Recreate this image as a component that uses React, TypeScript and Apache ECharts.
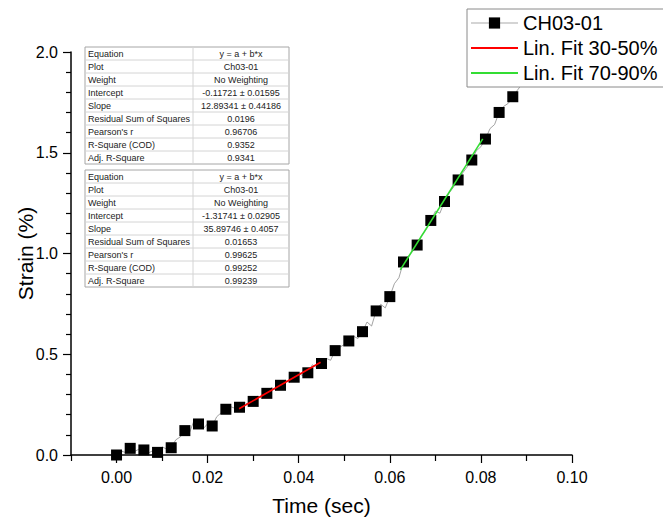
import React, { useEffect, useRef } from "react";
import * as echarts from "echarts";

// Raw strain gauge record CH03-01, sampled every 1 ms (strain in %)
const sampleStep = 0.001;
const strainRaw = [
  0.0, 0.02, 0.012, 0.033, 0.018, 0.03, 0.025, 0.01, 0.022, 0.013,
  0.04, 0.03, 0.036, 0.075, 0.09, 0.121, 0.11, 0.17, 0.154, 0.13,
  0.155, 0.144, 0.19, 0.21, 0.227, 0.24, 0.232, 0.237, 0.262, 0.25,
  0.266, 0.292, 0.28, 0.306, 0.335, 0.322, 0.346, 0.372, 0.36, 0.386,
  0.405, 0.392, 0.408, 0.448, 0.432, 0.454, 0.48, 0.47, 0.518, 0.535,
  0.548, 0.566, 0.59, 0.578, 0.612, 0.66, 0.64, 0.715, 0.748, 0.73,
  0.786, 0.85, 0.88, 0.958, 0.985, 1.01, 1.042, 1.09, 1.12, 1.164,
  1.21, 1.2, 1.258, 1.3, 1.33, 1.365, 1.4, 1.43, 1.464, 1.51,
  1.53, 1.568, 1.62, 1.64, 1.7, 1.73, 1.745, 1.778, 1.81, 1.84,
  1.87,
];
// every third sample carries a marker
const markerEvery = 3;

// Linear fits
const fit1 = { intercept: -0.11721, interceptErr: 0.01595, slope: 12.89341, slopeErr: 0.44186, rss: "0.0196", pearson: "0.96706", r2: "0.9352", adjR2: "0.9341" };
const fit2 = { intercept: -1.31741, interceptErr: 0.02905, slope: 35.89746, slopeErr: 0.4057, rss: "0.01653", pearson: "0.99625", r2: "0.99252", adjR2: "0.99239" };
const fit1Range = [0.0269, 0.0448];
const fit2Range = [0.0623, 0.0804];

const seriesNames = ["CH03-01", "Lin. Fit 30-50%", "Lin. Fit 70-90%"];
const tableRowLabels = [
  "Equation",
  "Plot",
  "Weight",
  "Intercept",
  "Slope",
  "Residual Sum of Squares",
  "Pearson's r",
  "R-Square (COD)",
  "Adj. R-Square",
];

const xMajorTicks = [0, 0.02, 0.04, 0.06, 0.08, 0.1];
const xMinorTicks = [-0.01, 0.01, 0.03, 0.05, 0.07, 0.09];

const FONT = "'Liberation Sans', Arial, Helvetica, sans-serif";
const RAW_LINE = "#8c8c8c";

function fitRows(f: typeof fit1): string[] {
  const fmt = (n: number) => String(n);
  return [
    "y = a + b*x",
    "Ch03-01",
    "No Weighting",
    `${fmt(f.intercept)} \u00b1 ${fmt(f.interceptErr)}`,
    `${fmt(f.slope)} \u00b1 ${fmt(f.slopeErr)}`,
    f.rss,
    f.pearson,
    f.r2,
    f.adjR2,
  ];
}

function fitLine(f: typeof fit1, range: number[]) {
  return range.map((x) => [x, f.intercept + f.slope * x]);
}

function tableGraphic(left: number, top: number, values: string[]) {
  const width = 204;
  const split = 108;
  const rowH = 13;
  const children: any[] = [];
  children.push({
    type: "rect",
    shape: { x: 0, y: 0, width, height: rowH * values.length },
    style: { fill: "#fff", stroke: "#a6a6a6", lineWidth: 1 },
  });
  for (let i = 1; i < values.length; i++) {
    children.push({
      type: "line",
      shape: { x1: 0, y1: i * rowH, x2: width, y2: i * rowH },
      style: { stroke: "#d4d4d4", lineWidth: 1 },
    });
  }
  children.push({
    type: "line",
    shape: { x1: split, y1: 0, x2: split, y2: rowH * values.length },
    style: { stroke: "#d4d4d4", lineWidth: 1 },
  });
  tableRowLabels.forEach((label, i) => {
    children.push({
      type: "text",
      x: 3,
      y: i * rowH + rowH / 2,
      style: { text: label, fill: "#222", font: `9px ${FONT}`, verticalAlign: "middle", align: "left" },
    });
    children.push({
      type: "text",
      x: split + (width - split) / 2,
      y: i * rowH + rowH / 2,
      style: { text: values[i], fill: "#222", font: `9px ${FONT}`, verticalAlign: "middle", align: "center" },
    });
  });
  return { type: "group", x: left, y: top, z: 10, children };
}

export default function App() {
  const ref = useRef<HTMLDivElement>(null);

  useEffect(() => {
    if (!ref.current) return;
    const chart = echarts.init(ref.current, null, { renderer: "svg" });

    const rawPairs = strainRaw.map((v, i) => [i * sampleStep, v]);

    chart.setOption({
      animation: false,
      backgroundColor: "#fff",
      grid: { left: 71, right: 91, top: 52, bottom: 63, outerBoundsMode: "none" },
      legend: {
        orient: "vertical",
        left: 467,
        top: 9,
        backgroundColor: "#fff",
        borderColor: "#8a8a8a",
        borderWidth: 1,
        borderRadius: 0,
        padding: [4, 20, 4, 3],
        itemWidth: 47,
        itemHeight: 14,
        itemGap: 5,
        textStyle: { fontSize: 20, fontFamily: FONT, color: "#000" },
        data: [
          { name: seriesNames[0], lineStyle: { color: "#aaaaaa", width: 1.2 } },
          // fit lines show only their stroke in the legend
          { name: seriesNames[1], itemStyle: { opacity: 0 } },
          { name: seriesNames[2], itemStyle: { opacity: 0 } },
        ],
      },
      xAxis: [
        {
          type: "value",
          min: -0.01,
          max: 0.1,
          name: "Time (sec)",
          nameLocation: "middle",
          nameGap: 40,
          nameTextStyle: { fontSize: 21, fontFamily: FONT, color: "#000" },
          axisLine: { onZero: false, lineStyle: { color: "#000", width: 1.5 } },
          axisTick: { show: true, inside: false, length: 8, customValues: xMajorTicks, lineStyle: { color: "#000", width: 1.2 } },
          axisLabel: {
            customValues: xMajorTicks,
            margin: 14,
            fontSize: 16,
            fontFamily: FONT,
            color: "#000",
            formatter: (v: number) => v.toFixed(2),
          },
          splitLine: { show: false },
        },
        {
          type: "value",
          min: -0.01,
          max: 0.1,
          position: "bottom",
          axisLine: { show: false, onZero: false },
          axisTick: { show: true, inside: false, length: 6, customValues: xMinorTicks, lineStyle: { color: "#000", width: 1.2 } },
          axisLabel: { show: false },
          splitLine: { show: false },
        },
      ],
      yAxis: {
        type: "value",
        min: 0,
        max: 2,
        interval: 0.5,
        name: "Strain (%)",
        nameLocation: "middle",
        nameGap: 35,
        nameMoveOverlap: false,
        nameTextStyle: { fontSize: 21, fontFamily: FONT, color: "#000" },
        axisLine: { show: true, onZero: false, lineStyle: { color: "#000", width: 1.5 } },
        axisTick: { show: true, inside: false, length: 8, lineStyle: { color: "#000", width: 1.2 } },
        minorTick: { show: true, splitNumber: 5, length: 5, lineStyle: { color: "#000", width: 1.2 } },
        axisLabel: { margin: 13, fontSize: 16, fontFamily: FONT, color: "#000", formatter: (v: number) => v.toFixed(1) },
        splitLine: { show: false },
        minorSplitLine: { show: false },
      },
      series: [
        {
          name: seriesNames[0],
          type: "line",
          data: rawPairs,
          symbol: "rect",
          showAllSymbol: true,
          symbolSize: (_v: any, params: any) => (params.dataIndex % markerEvery === 0 ? 11 : 0),
          itemStyle: { color: "#000" },
          lineStyle: { color: RAW_LINE, width: 0.8 },
          z: 2,
        },
        {
          name: seriesNames[1],
          type: "line",
          data: fitLine(fit1, fit1Range),
          symbol: "none",
          lineStyle: { color: "#ff0000", width: 1.6 },
          itemStyle: { color: "#ff0000" },
          z: 3,
        },
        {
          name: seriesNames[2],
          type: "line",
          data: fitLine(fit2, fit2Range),
          symbol: "none",
          lineStyle: { color: "#33dd33", width: 1.6 },
          itemStyle: { color: "#33dd33" },
          z: 3,
        },
      ],
      graphic: [tableGraphic(85, 47, fitRows(fit1)), tableGraphic(85, 170, fitRows(fit2))],
    });

    return () => chart.dispose();
  }, []);

  return (
    <div
      ref={ref}
      style={{ position: "absolute", left: 0, top: 0, width: 663, height: 518, background: "#fff" }}
    />
  );
}
